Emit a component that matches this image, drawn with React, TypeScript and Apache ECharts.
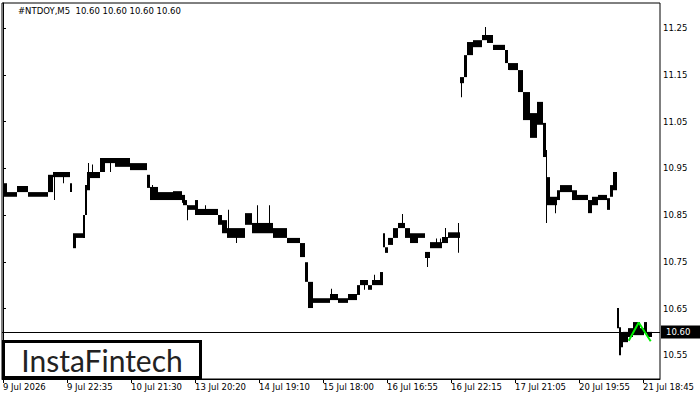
import React, { useEffect, useRef } from "react";
import * as echarts from "echarts";

// time labels every 64 bars (bar index 0 = first label)
const timeLabels = [
  "9 Jul 2026", "9 Jul 22:35", "10 Jul 21:30", "13 Jul 20:20", "14 Jul 19:10",
  "15 Jul 18:00", "16 Jul 16:55", "16 Jul 22:15", "17 Jul 21:05", "20 Jul 19:55", "21 Jul 18:45",
];
const timeTicks = timeLabels.map((_, i) => i * 64);
const priceTicks = [10.55, 10.65, 10.75, 10.85, 10.95, 11.05, 11.15, 11.25];
const lastPrice = 10.6;

// clustered bars: [startBar, endBar, low, high]
const bodies: number[][] = [
  [0, 4, 10.889, 10.918], [4, 14, 10.889, 10.899], [14, 25, 10.899, 10.912], [25, 45, 10.889, 10.899],
  [45, 50, 10.899, 10.936], [50, 67, 10.931, 10.942], [67, 69, 10.899, 10.918],
  [70, 73, 10.779, 10.811], [73, 80, 10.801, 10.811], [80, 82, 10.801, 10.85], [82, 84, 10.85, 10.914],
  [84, 87, 10.903, 10.942], [87, 97, 10.929, 10.942], [97, 102, 10.942, 10.972], [102, 112, 10.961, 10.972],
  [112, 127, 10.953, 10.972], [127, 144, 10.946, 10.961], [144, 147, 10.908, 10.936],
  [147, 155, 10.882, 10.91], [155, 170, 10.882, 10.899], [170, 179, 10.882, 10.901], [179, 182, 10.876, 10.893],
  [180, 184, 10.871, 10.882], [184, 192, 10.861, 10.871], [192, 195, 10.85, 10.882], [195, 215, 10.85, 10.863],
  [215, 219, 10.829, 10.85], [219, 224, 10.811, 10.839], [224, 242, 10.801, 10.822], [242, 249, 10.829, 10.854],
  [249, 270, 10.811, 10.833], [270, 284, 10.801, 10.822], [284, 297, 10.79, 10.801], [297, 302, 10.76, 10.79],
  [302, 305, 10.707, 10.749], [305, 310, 10.651, 10.707], [310, 327, 10.662, 10.672], [327, 335, 10.668, 10.681],
  [335, 345, 10.662, 10.672], [345, 354, 10.668, 10.681], [354, 357, 10.679, 10.7], [357, 365, 10.7, 10.711],
  [365, 369, 10.69, 10.7], [369, 377, 10.7, 10.711], [377, 380, 10.7, 10.728],
  [380, 382, 10.781, 10.811], [382, 385, 10.769, 10.781], [385, 390, 10.786, 10.801], [390, 395, 10.801, 10.822],
  [395, 402, 10.822, 10.833], [402, 407, 10.801, 10.822], [407, 415, 10.79, 10.811], [415, 422, 10.801, 10.811],
  [422, 427, 10.758, 10.771], [427, 439, 10.779, 10.792], [439, 445, 10.79, 10.803], [445, 457, 10.801, 10.813],
  [457, 461, 11.132, 11.145], [461, 464, 11.145, 11.192], [464, 470, 11.192, 11.22], [470, 479, 11.209, 11.224],
  [479, 484, 11.224, 11.235], [484, 490, 11.218, 11.235], [490, 502, 11.203, 11.214], [502, 505, 11.175, 11.203],
  [505, 515, 11.16, 11.175], [515, 520, 11.113, 11.16], [520, 527, 11.053, 11.113], [527, 534, 11.015, 11.068],
  [534, 540, 11.043, 11.092], [540, 543, 10.974, 11.047], [543, 544, 10.833, 10.989], [544, 547, 10.871, 10.931],
  [547, 554, 10.871, 10.889], [554, 557, 10.882, 10.903], [557, 569, 10.899, 10.914], [569, 574, 10.882, 10.903],
  [574, 585, 10.882, 10.893], [585, 589, 10.854, 10.882], [589, 595, 10.871, 10.889], [595, 604, 10.882, 10.893],
  [604, 607, 10.861, 10.886], [607, 610, 10.889, 10.914], [610, 614, 10.903, 10.942],
  [614, 616, 10.608, 10.651], [616, 618, 10.55, 10.61], [618, 620, 10.567, 10.598], [620, 625, 10.578, 10.6],
  [625, 630, 10.589, 10.608], [630, 637, 10.593, 10.621], [637, 641, 10.593, 10.608], [641, 644, 10.598, 10.621],
  [644, 649, 10.589, 10.6],
];

// single-bar wicks: [bar, low, high]
const wicks: number[][] = [
  [51, 10.882, 10.942], [60, 10.918, 10.94], [85, 10.929, 10.961], [89, 10.935, 10.958], [107, 10.942, 10.965],
  [149, 10.895, 10.914], [184, 10.839, 10.871], [202, 10.855, 10.871], [225, 10.81, 10.861], [233, 10.79, 10.805],
  [254, 10.82, 10.871], [266, 10.82, 10.871], [328, 10.67, 10.692], [361, 10.69, 10.705], [371, 10.705, 10.722],
  [399, 10.825, 10.852], [424, 10.739, 10.765], [433, 10.785, 10.8], [437, 10.785, 10.8], [442, 10.795, 10.822],
  [455, 10.769, 10.833], [458, 11.102, 11.14], [482, 11.23, 11.252], [552, 10.854, 10.875],
];

// green pattern line
const patternPoints: number[][] = [[625.7, 10.581], [635.7, 10.62], [647.7, 10.58]];

const FONT = "DejaVu Sans";

export default function App() {
  const ref = useRef<HTMLDivElement>(null);
  useEffect(() => {
    if (!ref.current) return;
    const chart = echarts.init(ref.current, undefined, { renderer: "svg" });
    const barData = [
      ...bodies.map((b) => [b[0], b[1], b[2], b[3]]),
      ...wicks.map((w) => [w[0], w[0] + 1, w[1], w[2]]),
    ];
    chart.setOption({
      animation: false,
      backgroundColor: "#ffffff",
      grid: { left: 2, top: 3, right: 40, bottom: 21, show: true, borderColor: "#000", borderWidth: 1, backgroundColor: "#fff" },
      xAxis: {
        type: "value",
        min: -1,
        max: 657,
        splitLine: { show: false },
        axisLine: { show: true, lineStyle: { color: "#000", width: 1 } },
        axisTick: { show: true, length: 4, customValues: timeTicks, lineStyle: { color: "#000" } },
        axisLabel: {
          customValues: timeTicks,
          formatter: (v: number) => timeLabels[Math.round(v / 64)] ?? "",
          align: "left",
          margin: 3,
          color: "#000",
          fontFamily: FONT,
          fontSize: 8.5,
        },
      },
      yAxis: {
        type: "value",
        position: "right",
        scale: true,
        min: 10.4992,
        max: 11.3035,
        splitLine: { show: false },
        axisLine: { show: true, lineStyle: { color: "#000", width: 1 } },
        axisTick: { show: true, length: 3, customValues: priceTicks, lineStyle: { color: "#000" } },
        axisLabel: {
          customValues: priceTicks,
          formatter: (v: number) => v.toFixed(2),
          margin: 3,
          color: "#000",
          fontFamily: FONT,
          fontSize: 8.5,
        },
      },
      series: [
        {
          type: "custom",
          silent: true,
          data: barData,
          encode: { x: [0, 1], y: [2, 3] },
          renderItem: (_params: any, api: any) => {
            const x0 = api.value(0);
            const x1 = api.value(1);
            const lo = api.value(2);
            const hi = api.value(3);
            const p0 = api.coord([x0, hi]);
            const p1 = api.coord([x1, lo]);
            return {
              type: "rect",
              shape: {
                x: p0[0],
                y: p0[1],
                width: Math.max(1, p1[0] - p0[0]),
                height: Math.max(1.5, p1[1] - p0[1]),
              },
              style: { fill: "#000" },
            };
          },
        },
        {
          type: "line",
          silent: true,
          data: patternPoints,
          symbol: "none",
          lineStyle: { color: "#00ee00", width: 2 },
          z: 5,
          markLine: {
            silent: true,
            symbol: "none",
            animation: false,
            lineStyle: { color: "#000", width: 1, type: "solid" },
            label: {
              show: true,
              position: "end",
              distance: 1,
              formatter: "10.60",
              color: "#fff",
              backgroundColor: "#000",
              padding: [2, 11, 2, 5],
              fontFamily: FONT,
              fontSize: 8.5,
            },
            emphasis: { disabled: true },
            data: [{ yAxis: lastPrice }],
          },
        },
      ],
      graphic: [
        {
          type: "text",
          left: 18,
          top: 6,
          style: {
            text: "#NTDOY,M5  10.60 10.60 10.60 10.60",
            fill: "#000",
            font: `8.5px "${FONT}"`,
          },
        },
        {
          type: "rect",
          shape: { x: 3.5, y: 341.5, width: 197, height: 36 },
          style: { fill: "#fff", stroke: "#000", lineWidth: 3 },
          z: 100,
        },
        {
          type: "text",
          x: 102,
          y: 360,
          style: {
            text: "InstaFintech",
            fill: "#222",
            font: `400 30px "Lato"`,
            textAlign: "center",
            textVerticalAlign: "middle",
          },
          z: 101,
        },
      ],
    });
    return () => chart.dispose();
  }, []);
  return <div ref={ref} style={{ position: "fixed", left: 0, top: 0, width: 700, height: 400 }} />;
}
